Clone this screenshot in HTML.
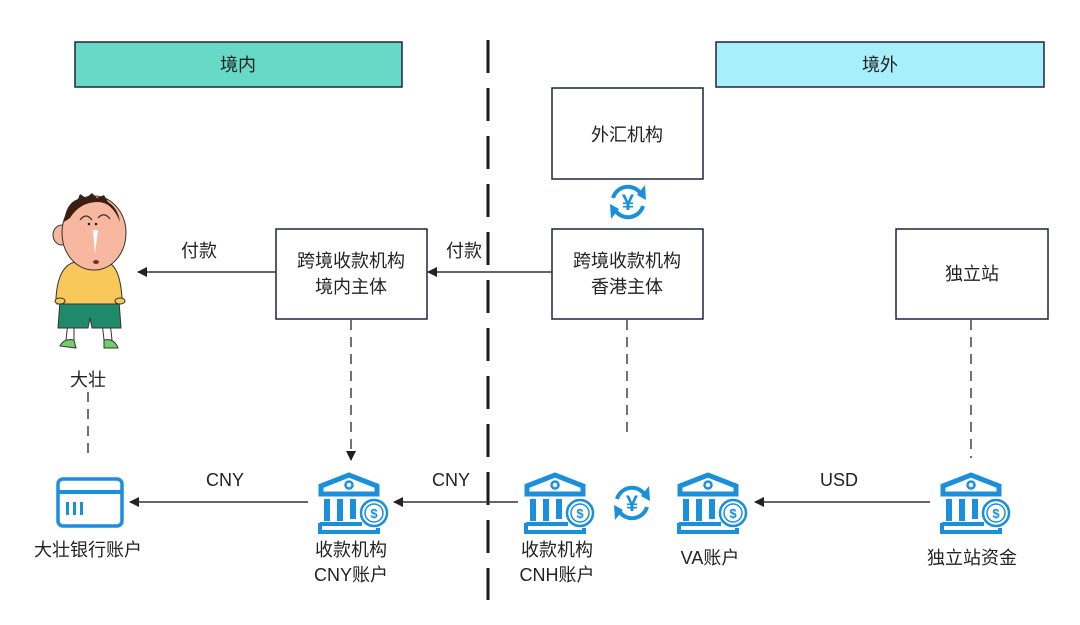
<!DOCTYPE html>
<html><head><meta charset="utf-8"><style>
html,body{margin:0;padding:0;background:#fff;}
svg{display:block;}
text{font-family:"Liberation Sans","Noto Sans CJK SC",sans-serif;fill:#222;}
</style></head><body>
<svg width="1080" height="625" viewBox="0 0 1080 625" xmlns="http://www.w3.org/2000/svg">
<defs>
<marker id="ah" markerWidth="10" markerHeight="10" refX="9" refY="5" orient="auto" markerUnits="userSpaceOnUse">
<path d="M0,0 L10,5 L0,10 z" fill="#222"/>
</marker>
<g id="bank">
<path d="M3,21 L3,13 L31,2 L59,13 L59,21 Z" fill="none" stroke="#1a8fdc" stroke-width="5" stroke-linejoin="miter"/>
<circle cx="31" cy="12" r="3.5" fill="none" stroke="#1a8fdc" stroke-width="2.5"/>
<rect x="6" y="26" width="6" height="22" fill="#1a8fdc"/>
<rect x="19" y="26" width="6" height="22" fill="#1a8fdc"/>
<rect x="32" y="26" width="6" height="20" fill="#1a8fdc"/>
<path d="M2,50 L2,59 L60,59 L60,55" fill="none" stroke="#1a8fdc" stroke-width="4"/>
<line x1="2" y1="51" x2="44" y2="51" stroke="#1a8fdc" stroke-width="4"/>
<circle cx="56" cy="40" r="13" fill="#fff" stroke="#1a8fdc" stroke-width="2.5"/>
<circle cx="56" cy="40" r="9" fill="none" stroke="#1a8fdc" stroke-width="1.5"/>
<text x="56" y="45" text-anchor="middle" font-size="13" font-weight="bold" style="fill:#1a8fdc">$</text>
</g>
<g id="yen">
<path d="M-15,-4 A15.5,15.5 0 0 1 13,-8" fill="none" stroke="#1a8fdc" stroke-width="4"/>
<path d="M15,4 A15.5,15.5 0 0 1 -13,8" fill="none" stroke="#1a8fdc" stroke-width="4"/>
<path d="M17,-17 L18,-2 L9,-7 z" fill="#1a8fdc"/>
<path d="M-17,17 L-18,2 L-9,7 z" fill="#1a8fdc"/>
<text x="0" y="8" text-anchor="middle" font-size="22" font-weight="bold" style="fill:#1a8fdc">¥</text>
</g>
</defs>

<rect x="75" y="42" width="327" height="45" fill="#66d9c7" stroke="#1f2244" stroke-width="1.5"/>
<text x="238" y="71" text-anchor="middle" font-size="18">境内</text>
<rect x="716" y="42" width="328" height="45" fill="#a6effb" stroke="#1f2244" stroke-width="1.5"/>
<text x="880" y="71" text-anchor="middle" font-size="18">境外</text>

<line x1="488" y1="40" x2="488" y2="600" stroke="#1a1a1a" stroke-width="3" stroke-dasharray="33,15"/>

<rect x="552" y="88" width="151" height="91" fill="#fff" stroke="#1f2244" stroke-width="1.5"/>
<text x="627" y="141" text-anchor="middle" font-size="18">外汇机构</text>
<rect x="552" y="229" width="151" height="90" fill="#fff" stroke="#1f2244" stroke-width="1.5"/>
<text x="627" y="267" text-anchor="middle" font-size="18">跨境收款机构</text>
<text x="627" y="293" text-anchor="middle" font-size="18">香港主体</text>
<rect x="276" y="229" width="151" height="90" fill="#fff" stroke="#1f2244" stroke-width="1.5"/>
<text x="351" y="267" text-anchor="middle" font-size="18">跨境收款机构</text>
<text x="351" y="293" text-anchor="middle" font-size="18">境内主体</text>
<rect x="896" y="229" width="152" height="90" fill="#fff" stroke="#1f2244" stroke-width="1.5"/>
<text x="972" y="280" text-anchor="middle" font-size="18">独立站</text>

<use href="#yen" x="628" y="202"/>

<line x1="552" y1="272" x2="428" y2="272" stroke="#333" stroke-width="1.5" marker-end="url(#ah)"/>
<text x="464" y="257" text-anchor="middle" font-size="18">付款</text>
<line x1="276" y1="272" x2="138" y2="272" stroke="#333" stroke-width="1.5" marker-end="url(#ah)"/>
<text x="199" y="257" text-anchor="middle" font-size="18">付款</text>

<!-- kid -->
<g stroke="#333" stroke-width="1">
<path d="M68,322 L66,340 L74,340 L74,322 z" fill="#fff"/>
<path d="M102,322 L104,340 L112,340 L110,322 z" fill="#fff"/>
<path d="M60,346 Q64,338 74,340 L76,348 z" fill="#6fd06a"/>
<path d="M104,340 Q114,338 118,348 L104,348 z" fill="#6fd06a"/>
<path d="M60,301 L119,301 L121,328 L92,328 L90,318 L88,328 L58,328 z" fill="#1f8a6a"/>
<path d="M75,262 L107,262 Q120,266 122,298 L121,304 L57,304 L56,298 Q58,266 75,262 z" fill="#f8c85a"/>
<ellipse cx="60" cy="301" rx="5" ry="3" fill="#f8c85a"/>
<ellipse cx="120" cy="301" rx="5" ry="3" fill="#f8c85a"/>
<ellipse cx="62" cy="235" rx="9" ry="10" fill="#f8b8a0"/>
<ellipse cx="94" cy="233" rx="32" ry="37" fill="#f8b8a0"/>
</g>
<path d="M64,222 Q66,203 78,199 L80,194 L86,198 L92,193 L97,198 L104,195 L108,202 Q118,208 120,222 Q112,202 98,202 Q80,202 70,218 z" fill="#3a1f12"/>
<path d="M80,220 Q86,212 92,220 M98,218 Q104,211 110,219" fill="none" stroke="#333" stroke-width="1.2"/>
<circle cx="89" cy="224" r="1.3" fill="#222"/><circle cx="96" cy="224" r="1.3" fill="#222"/>
<path d="M93,230 L95,254 L98,230 z" fill="#fff"/>
<ellipse cx="96" cy="262" rx="3" ry="2" fill="#7a3030"/>
<text x="88" y="386" text-anchor="middle" font-size="18">大壮</text>

<line x1="88" y1="392" x2="88" y2="458" stroke="#444" stroke-width="1.5" stroke-dasharray="10,7"/>
<line x1="351" y1="320" x2="351" y2="460" stroke="#444" stroke-width="1.5" stroke-dasharray="10,7" marker-end="url(#ah)"/>
<line x1="627" y1="320" x2="627" y2="433" stroke="#444" stroke-width="1.5" stroke-dasharray="10,7"/>
<line x1="971" y1="320" x2="971" y2="458" stroke="#444" stroke-width="1.5" stroke-dasharray="10,7"/>

<rect x="58" y="479" width="64" height="47" rx="5" fill="none" stroke="#1a8fdc" stroke-width="3.5"/>
<line x1="58" y1="492" x2="122" y2="492" stroke="#1a8fdc" stroke-width="4"/>
<rect x="66" y="502" width="3" height="13" fill="#1a8fdc"/>
<rect x="73" y="502" width="3" height="13" fill="#1a8fdc"/>
<rect x="80" y="502" width="3" height="13" fill="#1a8fdc"/>
<text x="88" y="556" text-anchor="middle" font-size="18">大壮银行账户</text>

<use href="#bank" x="318" y="473"/>
<use href="#bank" x="524" y="473"/>
<use href="#bank" x="677" y="473"/>
<use href="#bank" x="940" y="473"/>
<use href="#yen" x="632" y="503"/>

<text x="351" y="556" text-anchor="middle" font-size="18">收款机构</text>
<text x="351" y="581" text-anchor="middle" font-size="18">CNY账户</text>
<text x="557" y="556" text-anchor="middle" font-size="18">收款机构</text>
<text x="557" y="581" text-anchor="middle" font-size="18">CNH账户</text>
<text x="710" y="564" text-anchor="middle" font-size="18">VA账户</text>
<text x="972" y="564" text-anchor="middle" font-size="18">独立站资金</text>

<line x1="308" y1="502" x2="130" y2="502" stroke="#333" stroke-width="1.5" marker-end="url(#ah)"/>
<text x="225" y="486" text-anchor="middle" font-size="18">CNY</text>
<line x1="518" y1="502" x2="394" y2="502" stroke="#333" stroke-width="1.5" marker-end="url(#ah)"/>
<text x="451" y="486" text-anchor="middle" font-size="18">CNY</text>
<line x1="930" y1="502" x2="755" y2="502" stroke="#333" stroke-width="1.5" marker-end="url(#ah)"/>
<text x="839" y="486" text-anchor="middle" font-size="18">USD</text>
</svg>
</body></html>
